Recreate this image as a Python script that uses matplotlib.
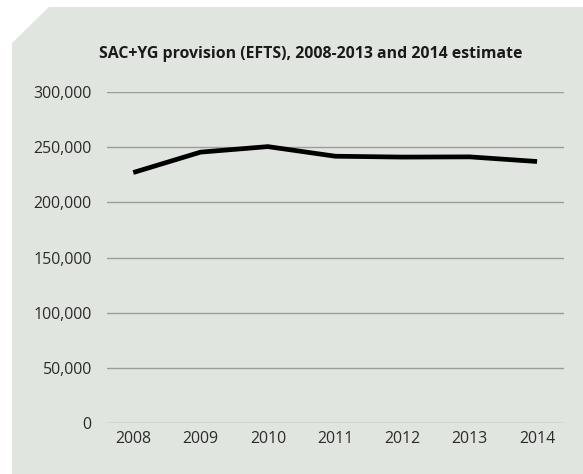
import matplotlib.pyplot as plt
from matplotlib.patches import Polygon
from matplotlib.ticker import FuncFormatter

# data
years = ['2008', '2009', '2010', '2011', '2012', '2013', '2014']
efts = [227000, 245500, 250500, 241800, 241000, 241200, 237000]
y_ticks = [0, 50000, 100000, 150000, 200000, 250000, 300000]

W, H = 583, 474
BG = '#e1e5df'
GRID = '#9a9c98'
TXT = '#2b2b2b'

plt.rcParams['font.family'] = ['Open Sans', 'DejaVu Sans']

fig = plt.figure(figsize=(W / 100, H / 100), dpi=100)
fig.patch.set_facecolor('white')

# grey panel with clipped top-left corner
panel = Polygon([(12 / W, 1 - 43 / H), (49 / W, 1 - 7 / H), (1, 1 - 7 / H),
                 (1, 0), (12 / W, 0)],
                closed=True, transform=fig.transFigure,
                facecolor=BG, edgecolor='none', zorder=-5)
fig.patches.append(panel)

ax = fig.add_axes([107 / W, 1 - 423 / H, 457 / W, 331 / H])
ax.set_facecolor('none')
ax.set_zorder(2)

x = list(range(len(years)))
ax.plot(x, efts, color='black', lw=3.4, solid_joinstyle='miter',
        solid_capstyle='butt', zorder=3)

ax.set_xlim(-0.39, 6.4)
ax.set_ylim(0, 300000)
ax.set_yticks(y_ticks)
ax.yaxis.set_major_formatter(FuncFormatter(lambda v, p: f'{int(v):,}'))
ax.set_xticks(x)
ax.set_xticklabels(years)

ax.grid(axis='y', color=GRID, lw=1.0, zorder=1)
for s in ax.spines.values():
    s.set_visible(False)
ax.tick_params(axis='both', length=0, labelsize=11.4, colors=TXT)
ax.tick_params(axis='y', pad=11)
ax.tick_params(axis='x', pad=6)

fig.text(311 / W, 1 - 54 / H,
         'SAC+YG provision (EFTS), 2008-2013 and 2014 estimate',
         ha='center', va='center', fontsize=11.4, fontweight='bold',
         color='#1a1a1a', zorder=3)

fig.savefig('out.png', dpi=100, facecolor=fig.get_facecolor())
